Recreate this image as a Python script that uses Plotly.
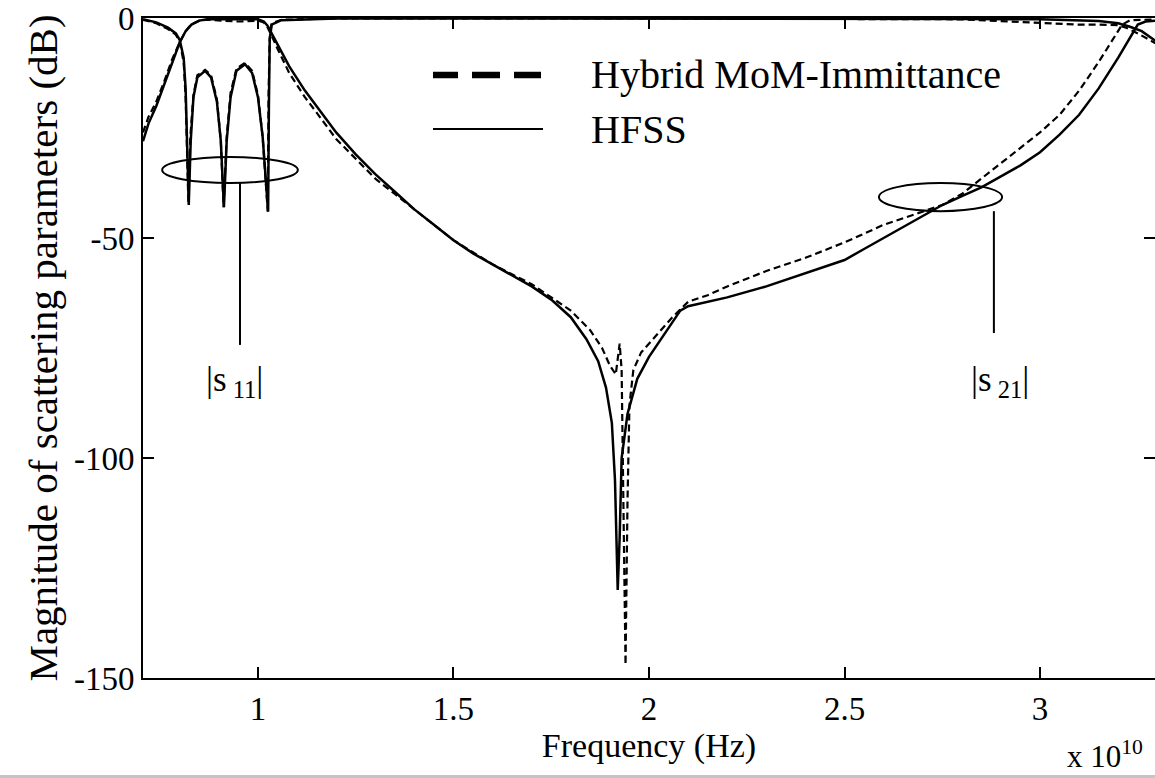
import plotly.graph_objects as go

# Frequency axis is expressed in units of 1e10 Hz
# |S21| - HFSS
f_s21_hfss = [0.706, 0.72, 0.74, 0.76, 0.78, 0.80, 0.815, 0.83, 0.85, 0.87, 0.95, 1.00, 1.015,
              1.025, 1.035, 1.05, 1.08, 1.12, 1.15, 1.20, 1.25, 1.30, 1.35, 1.40, 1.45, 1.50,
              1.55, 1.60, 1.65, 1.70, 1.75, 1.80, 1.84, 1.87, 1.89, 1.905, 1.913, 1.92, 1.925,
              1.93, 1.945, 1.97, 2.00, 2.03, 2.06, 2.08, 2.10, 2.15, 2.20, 2.30, 2.40, 2.50,
              2.55, 2.60, 2.65, 2.70, 2.75, 2.80, 2.85, 2.90, 2.95, 3.00, 3.05, 3.10, 3.15,
              3.20, 3.23, 3.25, 3.27, 3.30]
s21_hfss = [-28, -24, -20, -15, -10, -5.5, -3, -1.5, -0.6, -0.3, -0.2, -0.3, -0.8,
            -1.8, -3.5, -6, -11, -16.5, -20, -26, -31, -35.5, -39.5, -43.5, -47, -50.5,
            -53.5, -56, -58.5, -61, -64, -68, -73, -78, -84, -92, -105, -130, -118,
            -100, -90, -82, -77, -73, -69, -66.5, -65.5, -64.5, -63.5, -61, -58, -55,
            -52.5, -50, -47.5, -45, -42.5, -40.5, -38.5, -36, -33.5, -30.5, -26.5, -22, -16,
            -9, -4.5, -1.5, -0.8, -0.6]

# |S21| - Hybrid MoM-Immittance
f_s21_mom = [0.706, 0.72, 0.74, 0.76, 0.78, 0.80, 0.815, 0.83, 0.85, 0.87, 0.95, 1.00, 1.015,
             1.025, 1.035, 1.05, 1.08, 1.12, 1.15, 1.20, 1.25, 1.30, 1.35, 1.40, 1.50, 1.60,
             1.70, 1.80, 1.85, 1.88, 1.90, 1.915, 1.925, 1.93, 1.935, 1.94, 1.945, 1.95, 1.96,
             1.98, 2.02, 2.06, 2.10, 2.15, 2.20, 2.30, 2.40, 2.50, 2.60, 2.70, 2.75, 2.80,
             2.85, 2.90, 2.95, 3.00, 3.05, 3.10, 3.15, 3.19, 3.21, 3.23, 3.30]
s21_mom = [-26, -22.5, -19, -14.5, -9.5, -5.5, -3, -1.4, -0.6, -0.4, -0.8, -0.6, -1.0,
           -2.2, -4, -7, -12.5, -18, -21.5, -27.5, -32, -36.5, -40, -43.5, -50.5, -56,
           -60.5, -66.5, -71, -75, -79, -81, -74, -80, -110, -147, -110, -88, -80,
           -76, -72, -68, -64.5, -63, -61, -57.5, -54.5, -51, -47, -44, -42.5, -40,
           -36.5, -33, -29.5, -26, -22, -16.5, -10, -4.5, -1.5, -0.5, -0.3]

# |S11| - HFSS
f_s11_hfss = [0.706, 0.74, 0.77, 0.79, 0.80, 0.81, 0.815, 0.82, 0.823, 0.828, 0.835, 0.845,
              0.865, 0.88, 0.895, 0.905, 0.913, 0.92, 0.93, 0.945, 0.967, 0.985, 1.00, 1.012,
              1.02, 1.026, 1.028, 1.03, 1.035, 1.06, 1.20, 2.00, 2.80, 3.00, 3.10, 3.15,
              3.20, 3.23, 3.26, 3.30]
s11_hfss = [-0.3, -1, -2.2, -3.5, -5, -9, -16, -30, -42.5, -28, -18, -13.5,
            -12, -13.5, -19, -28, -43, -28, -18, -12, -10.5, -12.5, -18, -27,
            -36, -44, -20, -5, -1.5, -0.5, -0.1, -0.1, -0.2, -0.3, -0.5, -0.7,
            -1.2, -2, -3, -5.5]

# |S11| - Hybrid MoM-Immittance
f_s11_mom = [0.706, 0.74, 0.77, 0.79, 0.80, 0.81, 0.815, 0.82, 0.822, 0.827, 0.835, 0.845,
             0.865, 0.88, 0.895, 0.905, 0.912, 0.92, 0.93, 0.945, 0.967, 0.985, 1.00, 1.012,
             1.02, 1.025, 1.027, 1.03, 1.035, 1.06, 1.20, 2.00, 2.80, 3.00, 3.10, 3.15,
             3.20, 3.22, 3.25, 3.30]
s11_mom = [-0.4, -1.2, -2.5, -3.8, -5.5, -10, -18, -32, -42, -27, -17.5, -13,
           -11.8, -13, -18.5, -28, -43, -27, -17, -11.5, -10.2, -12, -17.5, -27,
           -37, -44, -18, -4.5, -1.2, -0.4, -0.1, -0.1, -0.3, -1.2, -1.5, -1.5,
           -1.6, -2.2, -3.5, -6]

x_ticks = [1, 1.5, 2, 2.5, 3]
x_tick_text = ["1", "1.5", "2", "2.5", "3"]
y_ticks = [-150, -100, -50, 0]
y_tick_text = ["-150", "-100", "-50", "0"]

SERIF = '"Liberation Serif", "Times New Roman", Times, serif'
dash_style = dict(color="black", width=2.2, dash="7px,4px")
solid_style = dict(color="black", width=2.5)

fig = go.Figure()
fig.add_trace(go.Scatter(x=f_s21_mom, y=s21_mom, mode="lines", line=dash_style,
                         name="Hybrid MoM-Immittance", showlegend=False))
fig.add_trace(go.Scatter(x=f_s11_mom, y=s11_mom, mode="lines", line=dash_style,
                         showlegend=False))
fig.add_trace(go.Scatter(x=f_s21_hfss, y=s21_hfss, mode="lines", line=solid_style,
                         name="HFSS", showlegend=False))
fig.add_trace(go.Scatter(x=f_s11_hfss, y=s11_hfss, mode="lines", line=solid_style,
                         showlegend=False))
# Invisible trace carrying the right-hand tick marks
fig.add_trace(go.Scatter(x=[None], y=[None], yaxis="y2", showlegend=False))

tick_font = dict(family=SERIF, size=33, color="black")

fig.update_layout(
    width=1155, height=778,
    margin=dict(l=143, r=0, t=18, b=100),
    plot_bgcolor="white", paper_bgcolor="white",
    showlegend=False,
    xaxis=dict(range=[0.706, 3.294], tickvals=x_ticks, ticktext=x_tick_text,
               ticks="inside", ticklen=11, tickwidth=1.5, tickcolor="black",
               showline=True, linecolor="black", linewidth=2, mirror="ticks",
               showgrid=False, zeroline=False, tickfont=tick_font,
               title=dict(text="Frequency (Hz)", font=dict(family=SERIF, size=34, color="black"),
                          standoff=2)),
    yaxis=dict(range=[-150, 0], tickvals=y_ticks, ticktext=y_tick_text,
               ticks="inside", ticklen=11, tickwidth=1.5, tickcolor="black",
               showline=True, linecolor="black", linewidth=2, mirror=False,
               showgrid=False, zeroline=False, tickfont=tick_font,
               title=dict(text="Magnitude of scattering parameters (dB)",
                          font=dict(family=SERIF, size=41, color="black"), standoff=4)),
    yaxis2=dict(range=[-150, 0], overlaying="y", side="right", tickvals=y_ticks,
                ticks="inside", ticklen=11, tickwidth=1.5, tickcolor="black",
                showticklabels=False, showline=False, showgrid=False, zeroline=False),
)

# Legend drawn as line samples plus text
legend_font = dict(family=SERIF, size=40, color="black")
for xa, xb in [(433, 458), (472, 500), (514, 541)]:
    fig.add_shape(type="line", xref="paper", yref="paper",
                  x0=(xa - 143) / 1012, x1=(xb - 143) / 1012,
                  y0=(678 - 75) / 660, y1=(678 - 75) / 660,
                  line=dict(color="black", width=6.5))
fig.add_shape(type="line", xref="paper", yref="paper",
              x0=(433 - 143) / 1012, x1=(543 - 143) / 1012,
              y0=(678 - 129) / 660, y1=(678 - 129) / 660,
              line=dict(color="black", width=1.8))
fig.add_annotation(text="Hybrid MoM-Immittance", xref="paper", yref="paper",
                   x=(589 - 143) / 1012, y=(678 - 75) / 660, xanchor="left", yanchor="middle",
                   showarrow=False, font=legend_font)
fig.add_annotation(text="HFSS", xref="paper", yref="paper",
                   x=(589 - 143) / 1012, y=(678 - 129) / 660, xanchor="left", yanchor="middle",
                   showarrow=False, font=legend_font)

# |s11| marker: ellipse, leader line and label
fig.add_shape(type="circle", xref="x", yref="y", x0=0.755, x1=1.102, y0=-37.5, y1=-31.6,
              line=dict(color="black", width=2))
fig.add_shape(type="line", xref="x", yref="y", x0=0.954, x1=0.954, y0=-37.5, y1=-74.3,
              line=dict(color="black", width=2))
fig.add_annotation(text="|s<sub> 11</sub>|", x=0.941, y=-82.5, xref="x", yref="y",
                   showarrow=False, font=dict(family=SERIF, size=35, color="black"))

# |s21| marker
fig.add_shape(type="circle", xref="x", yref="y", x0=2.588, x1=2.903, y0=-43.9, y1=-37.5,
              line=dict(color="black", width=2))
fig.add_shape(type="line", xref="x", yref="y", x0=2.882, x1=2.882, y0=-43.9, y1=-71.6,
              line=dict(color="black", width=2))
fig.add_annotation(text="|s<sub> 21</sub>|", x=2.898, y=-82.5, xref="x", yref="y",
                   showarrow=False, font=dict(family=SERIF, size=35, color="black"))

# Axis exponent
fig.add_annotation(text="x 10<sup>10</sup>", xref="paper", yref="paper",
                   x=0.99, y=(678 - 776) / 660, xanchor="right", yanchor="bottom",
                   showarrow=False, font=dict(family=SERIF, size=31, color="black"))

# Grey strip along the bottom edge
fig.add_shape(type="rect", xref="paper", yref="paper", x0=-0.15, x1=1.01,
              y0=(678 - 779) / 660, y1=(678 - 775) / 660,
              fillcolor="#c4c4c4", line=dict(width=0), layer="above")

fig.write_html("out.html")
